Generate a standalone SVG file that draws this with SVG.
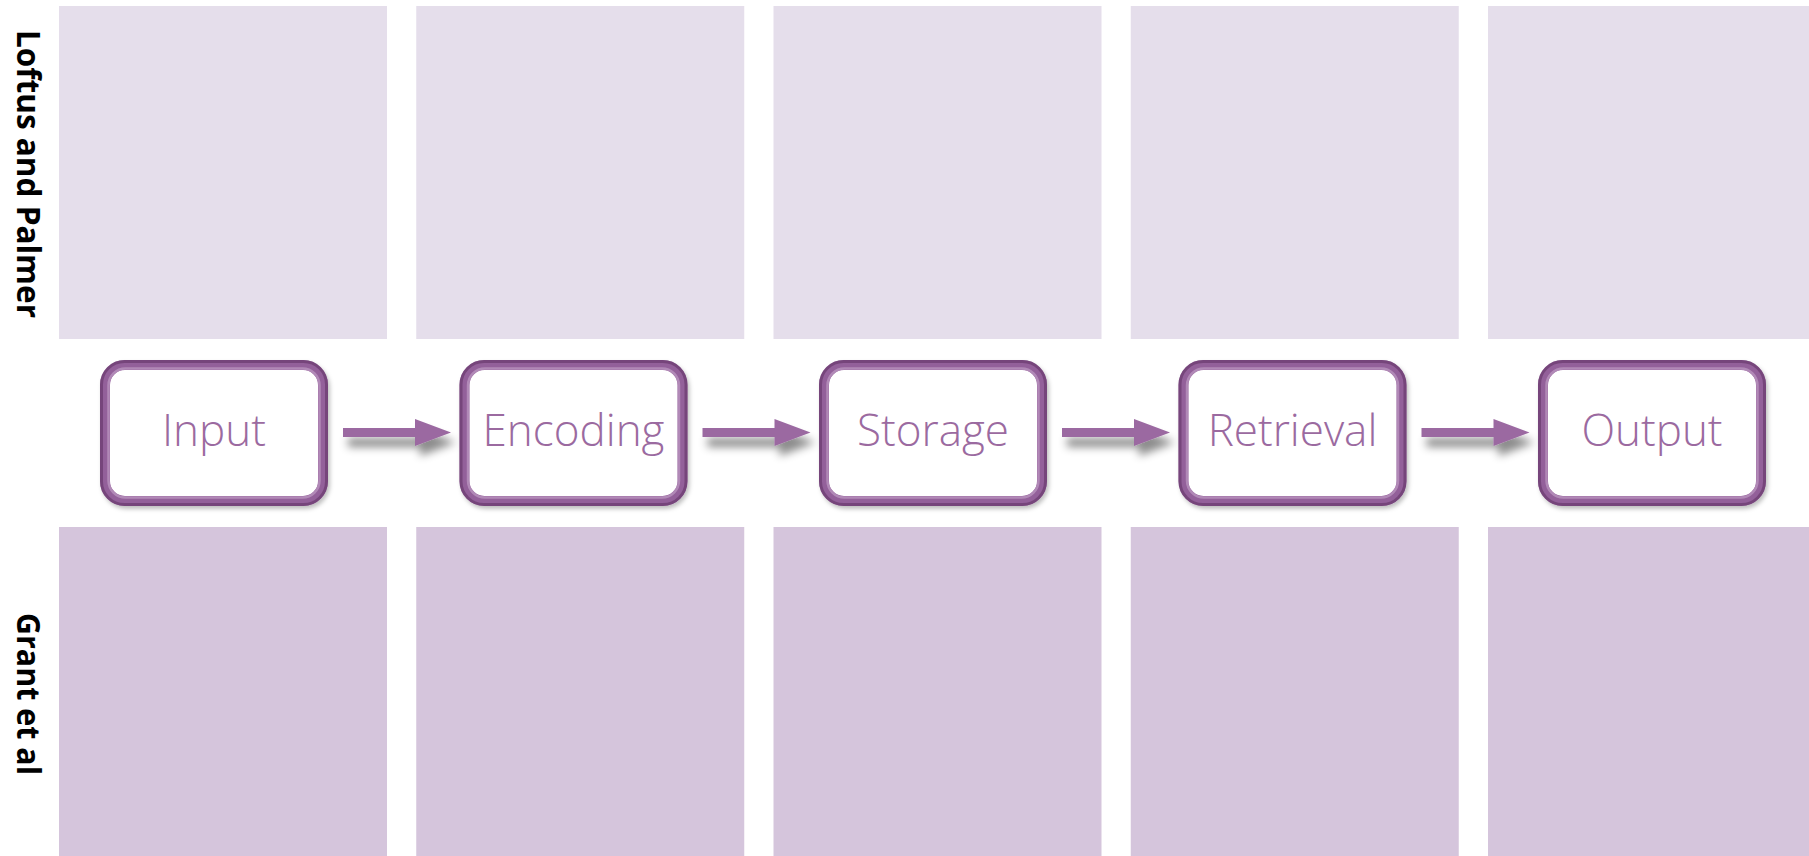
<svg xmlns="http://www.w3.org/2000/svg" width="1809" height="856" viewBox="0 0 1809 856">
  <style>
    .top { fill: #e5deeb; }
    .bot { fill: #d5c5dc; }
    .lbl { font-family: "Open Sans", "Liberation Sans", sans-serif; font-weight: 700; font-size: 32px; fill: #000; }
    .box { fill: #fff; stroke: #93609a; stroke-width: 10; }
    .edge-out { fill: none; stroke: #6a3b6e; stroke-width: 3; opacity: 0.7; }
    .edge-in { fill: none; stroke: #b994be; stroke-width: 2.5; opacity: 0.8; }
    .txt { font-family: "Open Sans", "Liberation Sans", sans-serif; font-weight: 300; font-size: 44px; fill: #9b6aa0; text-anchor: middle; }
    .arrow { fill: #9b69a1; }
  </style>
  <defs>
    <filter id="ashadow" x="-20%" y="-50%" width="150%" height="250%">
      <feDropShadow dx="5" dy="10" stdDeviation="4" flood-color="#000" flood-opacity="0.45"/>
    </filter>
    <filter id="bshadow" x="-10%" y="-10%" width="125%" height="130%">
      <feDropShadow dx="2" dy="3" stdDeviation="2" flood-color="#000" flood-opacity="0.25"/>
    </filter>
    <g id="arrowShape">
      <path class="arrow" d="M0,-4.5 H72 V-13.5 L108,0 L72,13.5 V4.5 H0 Z"/>
    </g>
    <g id="boxShape">
      <rect class="box" x="0" y="0" width="218" height="136" rx="20" ry="20" filter="url(#bshadow)"/>
      <rect class="edge-out" x="-3.5" y="-3.5" width="225" height="143" rx="23" ry="23"/>
      <rect class="edge-in" x="3.5" y="3.5" width="211" height="129" rx="17" ry="17"/>
    </g>
  </defs>
  <rect width="1809" height="856" fill="#fff"/>

  <g id="panels">
    <rect class="top" x="59" y="6" width="328" height="333"/>
    <rect class="top" x="416.25" y="6" width="328" height="333"/>
    <rect class="top" x="773.5" y="6" width="328" height="333"/>
    <rect class="top" x="1130.75" y="6" width="328" height="333"/>
    <rect class="top" x="1488" y="6" width="328" height="333"/>
    <rect class="bot" x="59" y="527" width="328" height="329"/>
    <rect class="bot" x="416.25" y="527" width="328" height="329"/>
    <rect class="bot" x="773.5" y="527" width="328" height="329"/>
    <rect class="bot" x="1130.75" y="527" width="328" height="329"/>
    <rect class="bot" x="1488" y="527" width="328" height="329"/>
  </g>

  <g id="row-labels">
    <text class="lbl" transform="translate(17,30) rotate(90)" textLength="288" lengthAdjust="spacingAndGlyphs">Loftus and Palmer</text>
    <text class="lbl" transform="translate(17,613) rotate(90)" textLength="162" lengthAdjust="spacingAndGlyphs">Grant et al</text>
  </g>

  <g id="connectors" filter="url(#ashadow)">
    <use href="#arrowShape" transform="translate(343,432.5)"/>
    <use href="#arrowShape" transform="translate(702.5,432.5)"/>
    <use href="#arrowShape" transform="translate(1062,432.5)"/>
    <use href="#arrowShape" transform="translate(1421.5,432.5)"/>
  </g>

  <g id="node-input">
    <use href="#boxShape" transform="translate(105,365)"/>
    <text class="txt" x="214" y="446">Input</text>
  </g>
  <g id="node-encoding">
    <use href="#boxShape" transform="translate(464.5,365)"/>
    <text class="txt" x="573.5" y="446">Encoding</text>
  </g>
  <g id="node-storage">
    <use href="#boxShape" transform="translate(824,365)"/>
    <text class="txt" x="933" y="446">Storage</text>
  </g>
  <g id="node-retrieval">
    <use href="#boxShape" transform="translate(1183.5,365)"/>
    <text class="txt" x="1292.5" y="446">Retrieval</text>
  </g>
  <g id="node-output">
    <use href="#boxShape" transform="translate(1543,365)"/>
    <text class="txt" x="1652" y="446">Output</text>
  </g>
</svg>
